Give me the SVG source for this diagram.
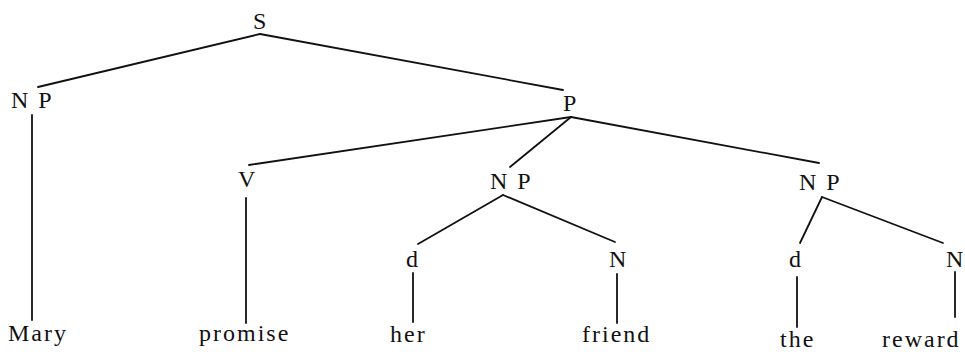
<svg xmlns="http://www.w3.org/2000/svg" width="965" height="352" viewBox="0 0 965 352">
<style>
.c line{stroke:#111;stroke-width:1.8;stroke-linecap:round}
</style>
<rect width="965" height="352" fill="#fff"/>
<g class="c" id="connectors">
<line x1="260" y1="34" x2="38" y2="87"/>
<line x1="260" y1="34" x2="563" y2="90"/>
<line x1="32" y1="115" x2="32" y2="320"/>
<line x1="571" y1="117" x2="249" y2="165"/>
<line x1="571" y1="117" x2="510" y2="167"/>
<line x1="571" y1="117" x2="819" y2="163"/>
<line x1="246" y1="198" x2="246" y2="323"/>
<line x1="503" y1="195" x2="418" y2="244"/>
<line x1="503" y1="195" x2="615" y2="242"/>
<line x1="413" y1="273" x2="413" y2="322"/>
<line x1="617" y1="274" x2="617" y2="323"/>
<line x1="822" y1="197" x2="800" y2="243"/>
<line x1="822" y1="197" x2="943" y2="243"/>
<line x1="797" y1="277" x2="797" y2="327"/>
<line x1="955" y1="272" x2="955" y2="317"/>
</g>
<g font-family="Liberation Serif, Times New Roman, serif" font-size="24" fill="#111" letter-spacing="2">
<g id="n-S"><text x="253" y="29">S</text></g>
<g id="n-NP1"><text x="11" y="108">N P</text></g>
<g id="n-Mary"><text x="8" y="341">Mary</text></g>
<g id="n-P"><text x="563" y="111">P</text></g>
<g id="n-V"><text x="238" y="187">V</text></g>
<g id="n-promise"><text x="199" y="341">promise</text></g>
<g id="n-NP2"><text x="490" y="189">N P</text></g>
<g id="n-d1"><text x="406" y="267">d</text></g>
<g id="n-her"><text x="390" y="342">her</text></g>
<g id="n-N1"><text x="609" y="267">N</text></g>
<g id="n-friend"><text x="582" y="342">friend</text></g>
<g id="n-NP3"><text x="799" y="190">N P</text></g>
<g id="n-d2"><text x="789" y="267">d</text></g>
<g id="n-the"><text x="780" y="347">the</text></g>
<g id="n-N2"><text x="946" y="267">N</text></g>
<g id="n-reward"><text x="882" y="347">reward</text></g>
</g>
</svg>
